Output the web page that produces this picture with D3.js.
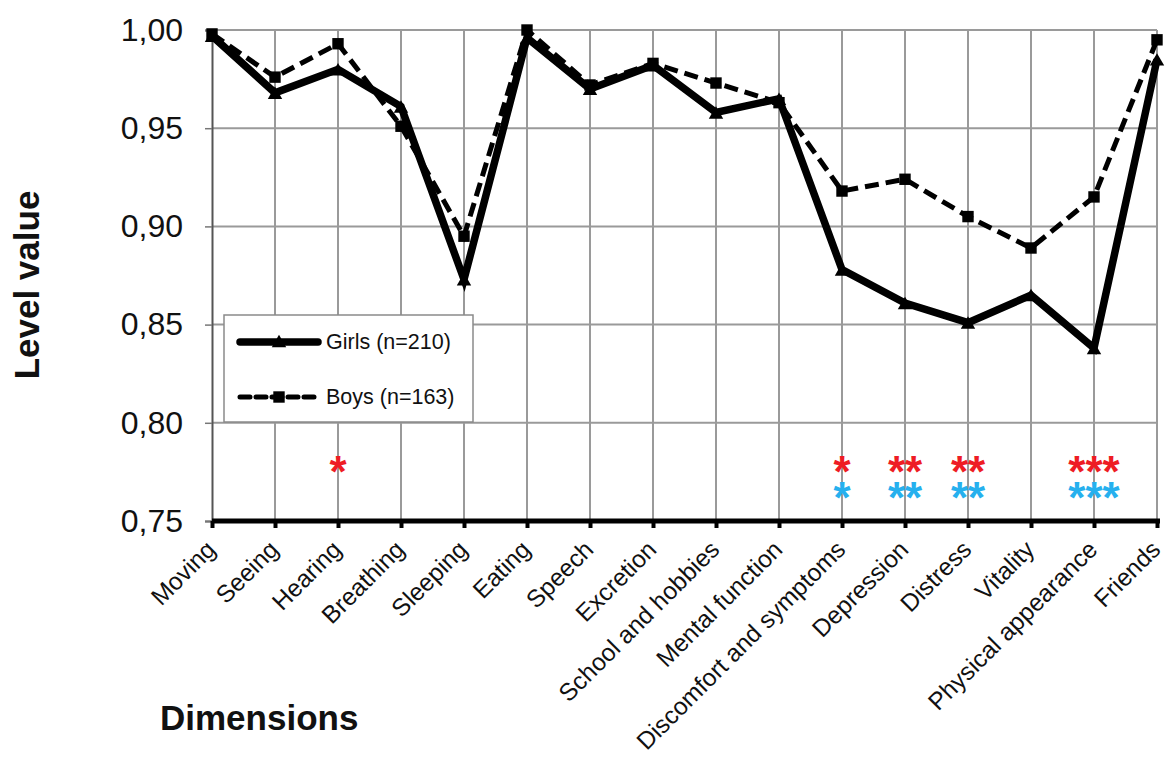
<!DOCTYPE html>
<html>
<head>
<meta charset="utf-8">
<script src="https://cdn.jsdelivr.net/npm/d3@7"></script>
<style>
  body { margin: 0; background: #fff; }
  svg { display: block; }
  text { font-family: "Liberation Sans", Arial, Helvetica, sans-serif; fill: #111; }
</style>
</head>
<body>
<svg id="chart" width="1165" height="758"></svg>
<script>
// Quality-of-life dimension levels by sex
const dimensions = [
  "Moving", "Seeing", "Hearing", "Breathing", "Sleeping", "Eating", "Speech",
  "Excretion", "School and hobbies", "Mental function", "Discomfort and symptoms",
  "Depression", "Distress", "Vitality", "Physical appearance", "Friends"
];
const girls = [0.997, 0.968, 0.980, 0.961, 0.873, 0.996, 0.970, 0.982, 0.958, 0.965, 0.878, 0.861, 0.851, 0.865, 0.838, 0.985];
const boys  = [0.998, 0.976, 0.993, 0.951, 0.895, 1.000, 0.972, 0.983, 0.973, 0.963, 0.918, 0.924, 0.905, 0.889, 0.915, 0.995];
const yTicks = [0.75, 0.80, 0.85, 0.90, 0.95, 1.00];
const seriesNames = ["Girls (n=210)", "Boys (n=163)"];

// significance stars per dimension: [dimension, upper row (red), lower row (blue)]
const starRows = [
  ["Hearing", "*", ""],
  ["Discomfort and symptoms", "*", "*"],
  ["Depression", "**", "**"],
  ["Distress", "**", "**"],
  ["Physical appearance", "***", "***"]
];

const svg = d3.select("#chart");
const plotLeft = 212, plotRight = 1157, plotTop = 30, plotBottom = 521;

const x = d3.scalePoint().domain(dimensions).range([plotLeft, plotRight]);
const y = d3.scaleLinear().domain([0.75, 1.0]).range([plotBottom, plotTop]);
const fmt = v => d3.format(".2f")(v).replace(".", ",");

// grid
const grid = svg.append("g");
grid.selectAll("line.h").data(yTicks.filter(v => v > 0.75)).join("line")
  .attr("class", "h")
  .attr("x1", plotLeft).attr("x2", plotRight)
  .attr("y1", d => y(d)).attr("y2", d => y(d))
  .attr("stroke", "#9a9a9a").attr("stroke-width", 2);
grid.selectAll("line.v").data(dimensions.slice(1)).join("line")
  .attr("class", "v")
  .attr("x1", d => x(d)).attr("x2", d => x(d))
  .attr("y1", plotTop).attr("y2", plotBottom)
  .attr("stroke", "#9a9a9a").attr("stroke-width", 2);

// y axis
const yAxis = svg.append("g").attr("transform", `translate(${plotLeft},0)`)
  .call(d3.axisLeft(y).tickValues(yTicks).tickFormat(fmt).tickSize(7).tickPadding(22));
yAxis.select(".domain").attr("stroke", "#555").attr("stroke-width", 2);
yAxis.selectAll(".tick line").attr("stroke", "#777").attr("stroke-width", 1.5);
yAxis.selectAll(".tick text").attr("font-size", 32).attr("fill", "#111")
  .style("font-family", '"Liberation Sans", Arial, sans-serif');

// x axis
const xAxis = svg.append("g").attr("transform", `translate(0,${plotBottom})`)
  .call(d3.axisBottom(x).tickSize(7).tickFormat(""));
xAxis.select(".domain").attr("stroke", "#000").attr("stroke-width", 5)
  .attr("d", `M${plotLeft},0H${plotRight + 3}`);
xAxis.selectAll(".tick line").attr("stroke", "#000").attr("stroke-width", 4);

svg.append("g").selectAll("text").data(dimensions).join("text")
  .attr("transform", d => `translate(${x(d) + 5},${plotBottom + 30}) rotate(-45)`)
  .attr("text-anchor", "end")
  .attr("font-size", 24.5)
  .text(d => d);

// series
const line = d3.line().x((d, i) => x(dimensions[i])).y(d => y(d));

svg.append("path").datum(boys)
  .attr("d", line).attr("fill", "none").attr("stroke", "#000")
  .attr("stroke-width", 5).attr("stroke-dasharray", "14,7").attr("stroke-linejoin", "miter");
svg.append("g").selectAll("path").data(boys).join("path")
  .attr("transform", (d, i) => `translate(${x(dimensions[i])},${y(d)})`)
  .attr("d", d3.symbol(d3.symbolSquare, 130));

svg.append("path").datum(girls)
  .attr("d", line).attr("fill", "none").attr("stroke", "#000")
  .attr("stroke-width", 7.5).attr("stroke-linejoin", "miter");
svg.append("g").selectAll("path").data(girls).join("path")
  .attr("transform", (d, i) => `translate(${x(dimensions[i])},${y(d) + 2})`)
  .attr("d", d3.symbol(d3.symbolTriangle, 90));

// significance stars: one text per dimension, red row above blue row
const starLevel = 0.7785;
const starText = svg.append("g").selectAll("text").data(starRows).join("text")
  .attr("text-anchor", "middle")
  .attr("font-size", 44)
  .attr("font-weight", "bold");
starText.append("tspan")
  .attr("x", d => x(d[0])).attr("y", y(starLevel) + 22)
  .style("fill", "#ee1c24")
  .text(d => d[1]);
starText.filter(d => d[2]).append("tspan")
  .attr("x", d => x(d[0])).attr("dy", 26)
  .style("fill", "#26b0ee")
  .text(d => d[2]);

// legend
const lg = svg.append("g");
lg.append("rect").attr("x", 224).attr("y", 315).attr("width", 249).attr("height", 107)
  .attr("fill", "#fff").attr("stroke", "#8a8a8a").attr("stroke-width", 1.5);
lg.append("line").attr("x1", 240).attr("x2", 318).attr("y1", 342).attr("y2", 342)
  .attr("stroke", "#000").attr("stroke-width", 7.5).attr("stroke-linecap", "round");
lg.append("path").attr("transform", "translate(279,343)").attr("d", d3.symbol(d3.symbolTriangle, 90));
lg.append("line").attr("x1", 240).attr("x2", 318).attr("y1", 397).attr("y2", 397)
  .attr("stroke", "#000").attr("stroke-width", 5).attr("stroke-dasharray", "10,6")
  .attr("stroke-linecap", "round");
lg.append("path").attr("transform", "translate(279,397)").attr("d", d3.symbol(d3.symbolSquare, 130));
lg.selectAll("text").data(seriesNames).join("text")
  .attr("x", 326).attr("y", (d, i) => 349 + i * 55)
  .attr("font-size", 21.5)
  .text(d => d);

// axis titles
svg.append("text")
  .attr("transform", "translate(39,285) rotate(-90)")
  .attr("text-anchor", "middle").attr("font-size", 35).attr("font-weight", "bold")
  .text("Level value");
svg.append("text")
  .attr("x", 160).attr("y", 730)
  .attr("font-size", 35).attr("font-weight", "bold")
  .text("Dimensions");
</script>
</body>
</html>
